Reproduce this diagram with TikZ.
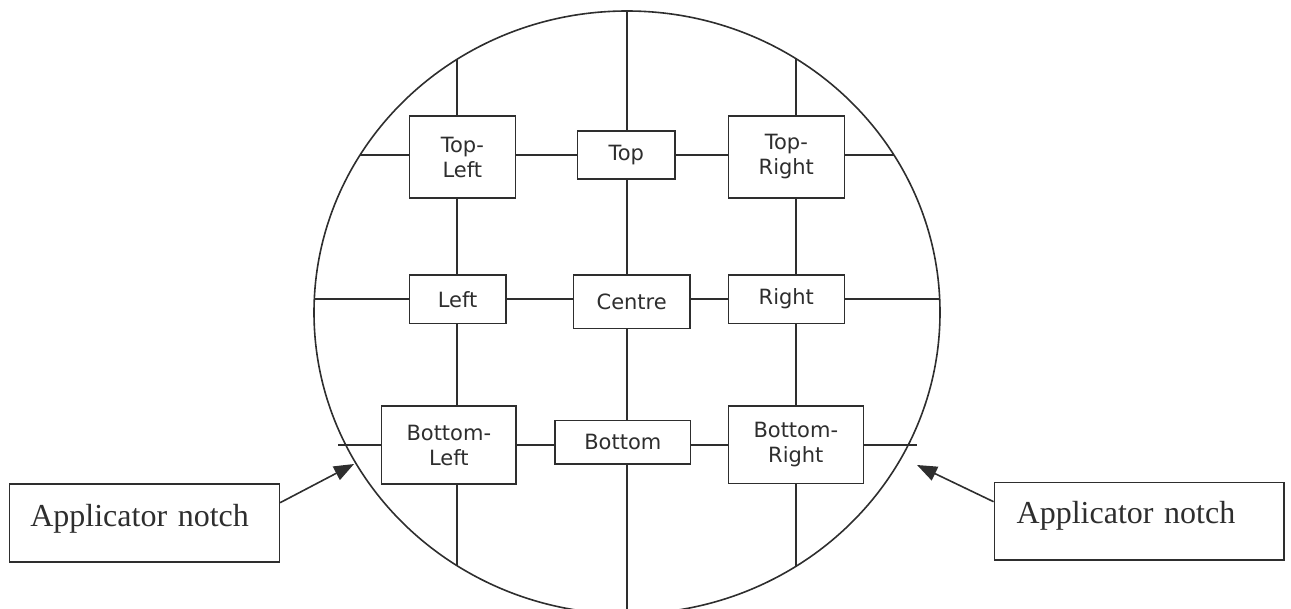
\documentclass[tikz,border=0pt]{standalone}
\usepackage{fontspec}
\newfontfamily\boxfont{DejaVu Sans}
\newfontfamily\notefont{Liberation Serif}
\usetikzlibrary{arrows.meta}
\definecolor{ink}{HTML}{2E2E2E}
\tikzset{
  grid line/.style={draw=ink, line width=1.6pt},
  zone/.style={draw=ink, line width=1.6pt, fill=white, inner sep=0pt, align=center,
     text=ink, font=\boxfont\fontsize{21}{25}\selectfont},
  notebox/.style={draw=ink, line width=1.6pt, fill=white, inner ysep=0pt, align=left,
     text=ink, font=\notefont\fontsize{32}{36}\selectfont},
  notcharrow/.style={draw=ink, line width=1.6pt, -{Triangle[length=20pt,width=15pt]}},
}
\begin{document}
\begin{tikzpicture}[x=1pt,y=-1pt]
\useasboundingbox (0,0) rectangle (1291,609);
% wafer outline
\draw[grid line] (627,312.5) ellipse [x radius=313pt, y radius=301.5pt];
% zones
\node[zone, minimum width=106pt, minimum height=82pt] (TL) at (462.3,157) {Top-\\Left};
\node[zone, minimum width=97.3pt, minimum height=48.3pt] (T) at (626.3,154.9) {Top};
\node[zone, minimum width=116pt, minimum height=82pt] (TR) at (786.3,157) {Top-\\Right};
\node[zone, minimum width=96.4pt, minimum height=48.3pt] (L) at (457.5,299.2) {Left};
\node[zone, minimum width=116.7pt, minimum height=53.3pt] (C) at (631.7,301.7) {Centre};
\node[zone, minimum width=116pt, minimum height=48.3pt] (R) at (786.3,299.2) {Right};
\node[zone, minimum width=134.3pt, minimum height=78pt] (BL) at (448.8,445) {Bottom-\\Left};
\node[zone, minimum width=135.7pt, minimum height=43.3pt] (B) at (622.8,442.3) {Bottom};
\node[zone, minimum width=135pt, minimum height=77.3pt] (BR) at (795.8,444.7) {Bottom-\\Right};
% grid end points on the outline
\coordinate (vLt) at (457,59.4);  \coordinate (vLb) at (457,565.6);
\coordinate (vCt) at (627,11);    \coordinate (vCb) at (627,614);
\coordinate (vRt) at (796,59);    \coordinate (vRb) at (796,566);
\coordinate (hTl) at (360,155);   \coordinate (hTr) at (894,155);
\coordinate (hMl) at (314.3,299.3); \coordinate (hMr) at (939.7,299.3);
\coordinate (hBl) at (338,445);   \coordinate (hBr) at (917,445);
% vertical grid lines
\draw[grid line] (vLt) -- (vLt |- TL.north) (vLt |- TL.south) -- (vLt |- L.north)
  (vLt |- L.south) -- (vLt |- BL.north) (vLt |- BL.south) -- (vLb);
\draw[grid line] (vCt) -- (vCt |- T.north) (vCt |- T.south) -- (vCt |- C.north)
  (vCt |- C.south) -- (vCt |- B.north) (vCt |- B.south) -- (vCb);
\draw[grid line] (vRt) -- (vRt |- TR.north) (vRt |- TR.south) -- (vRt |- R.north)
  (vRt |- R.south) -- (vRt |- BR.north) (vRt |- BR.south) -- (vRb);
% horizontal grid lines
\draw[grid line] (hTl) -- (hTl -| TL.west) (hTl -| TL.east) -- (hTl -| T.west)
  (hTl -| T.east) -- (hTl -| TR.west) (hTl -| TR.east) -- (hTr);
\draw[grid line] (hMl) -- (hMl -| L.west) (hMl -| L.east) -- (hMl -| C.west)
  (hMl -| C.east) -- (hMl -| R.west) (hMl -| R.east) -- (hMr);
\draw[grid line] (hBl) -- (hBl -| BL.west) (hBl -| BL.east) -- (hBl -| B.west)
  (hBl -| B.east) -- (hBl -| BR.west) (hBl -| BR.east) -- (hBr);
% applicator notch labels
\node[notebox, minimum width=270pt, minimum height=77.7pt, text width=228pt, inner xsep=20.7pt,
  text height=22pt, text depth=15.8pt] (LN) at (144.3,522.9) {Applicator notch};
\node[notebox, minimum width=289.7pt, minimum height=77.3pt, text width=245pt, inner xsep=21.7pt,
  text height=22pt, text depth=18.6pt] (RN) at (1139.2,521.3) {Applicator notch};
\coordinate (notchL) at (354,464);
\coordinate (notchR) at (917,465);
\draw[notcharrow] ([yshift=20.2pt]LN.east) -- (notchL);
\draw[notcharrow] ([yshift=19.6pt]RN.west) -- (notchR);
\end{tikzpicture}
\end{document}
